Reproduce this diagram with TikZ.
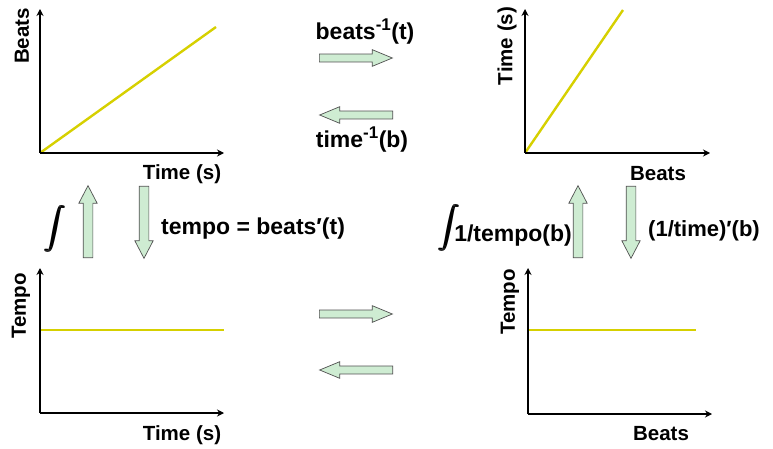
\documentclass[tikz,border=0pt]{standalone}
\usepackage{fontspec}
\setmainfont{Liberation Sans}
\usetikzlibrary{arrows.meta,shapes.arrows}
\definecolor{curve}{RGB}{214,208,0}
\definecolor{arrfill}{RGB}{206,236,210}
\definecolor{arrdraw}{RGB}{80,80,80}
\newcommand{\intglyph}{$\displaystyle\int$}
\newcommand{\bigint}{\scalebox{2.1}{\rlap{\intglyph}\kern0.35pt\rlap{\intglyph}\kern0.35pt\intglyph}}
\tikzset{
  axis/.style={line width=1.4pt,-{Stealth[length=7pt,width=7pt]}},
  plotline/.style={curve,line width=2.4pt},
  axlabel/.style={font=\fontsize{20.5}{24}\selectfont\bfseries,inner sep=0pt},
  oplabel/.style={font=\fontsize{23}{27}\selectfont\bfseries,inner sep=0pt},
  hblock/.style={single arrow,draw=arrdraw,fill=arrfill,line width=0.7pt,
    inner xsep=0pt,inner ysep=3.6pt,minimum width=16pt,minimum height=73pt,
    single arrow head extend=4.4pt,single arrow tip angle=45,anchor=tail},
  vblock/.style={single arrow,draw=arrdraw,fill=arrfill,line width=0.7pt,
    inner xsep=0pt,inner ysep=4.5pt,minimum width=17.5pt,minimum height=72pt,
    single arrow head extend=4.3pt,single arrow tip angle=55,anchor=tail},
}
\begin{document}
\begin{tikzpicture}[x=1pt,y=-1pt]
\useasboundingbox (0,0) rectangle (773,449);
% graph 1: beats vs time
\coordinate (o1) at (40,153);
\coordinate (y1) at (40,9);
\coordinate (x1) at (224,153);
\coordinate (e1) at (216,27);
\draw[plotline] (o1) -- (e1);
\draw[axis] (o1) -- (y1);
\draw[axis] (o1) -- (x1);
\node[axlabel,rotate=90] (l1y) at (22,36) {Beats};
\node[axlabel] (l1x) at (182,174) {Time (s)};
% graph 2: time vs beats
\coordinate (o2) at (525,153);
\coordinate (y2) at (525,9);
\coordinate (x2) at (710,153);
\coordinate (e2) at (623,10);
\draw[plotline] (o2) -- (e2);
\draw[axis] (o2) -- (y2);
\draw[axis] (o2) -- (x2);
\node[axlabel,rotate=90] (l2y) at (507,46) {Time (s)};
\node[axlabel] (l2x) at (658,174) {Beats};
% graph 3: tempo vs time
\coordinate (o3) at (40,413);
\coordinate (y3) at (40,268);
\coordinate (x3) at (224,413);
\coordinate (s3) at (40,330);
\coordinate (e3) at (224,330);
\draw[plotline] (s3) -- (e3);
\draw[axis] (o3) -- (y3);
\draw[axis] (o3) -- (x3);
\node[axlabel,rotate=90] (l3y) at (21,306) {Tempo};
\node[axlabel] (l3x) at (182,435) {Time (s)};
% graph 4: tempo vs beats
\coordinate (o4) at (528,414);
\coordinate (y4) at (528,268);
\coordinate (x4) at (712,414);
\coordinate (s4) at (528,330);
\coordinate (e4) at (696,330);
\draw[plotline] (s4) -- (e4);
\draw[axis] (o4) -- (y4);
\draw[axis] (o4) -- (x4);
\node[axlabel,rotate=90] (l4y) at (510,302) {Tempo};
\node[axlabel] (l4x) at (661,434) {Beats};
% horizontal block arrows
\node[hblock] (ha1) at (319,58) {};
\node[hblock,rotate=180] (ha2) at (393,115) {};
\node[hblock] (ha3) at (319,314) {};
\node[hblock,rotate=180] (ha4) at (393,370) {};
\node[oplabel] (t1) at (365,32) {beats\textsuperscript{\fontsize{17}{17}\selectfont -1}(t)};
\node[oplabel] (t2) at (362,140) {time\textsuperscript{\fontsize{17}{17}\selectfont -1}(b)};
% vertical block arrows
\node[vblock,rotate=90] (va1) at (88,258) {};
\node[vblock,rotate=270] (va2) at (144,186) {};
\node[vblock,rotate=90] (va3) at (578,258) {};
\node[vblock,rotate=270] (va4) at (631,186) {};
\node[oplabel] (int1) at (55,229) {\bigint};
\node[oplabel,anchor=west] (t3) at (161,229) {tempo = beats′(t)};
\node[oplabel,anchor=east] (t4) at (572,228) {\bigint\kern-6pt1/tempo(b)};
\node[oplabel,anchor=west,font=\fontsize{22}{26}\selectfont\bfseries] (t5) at (648,231) {(1/time)′(b)};
\end{tikzpicture}
\end{document}
